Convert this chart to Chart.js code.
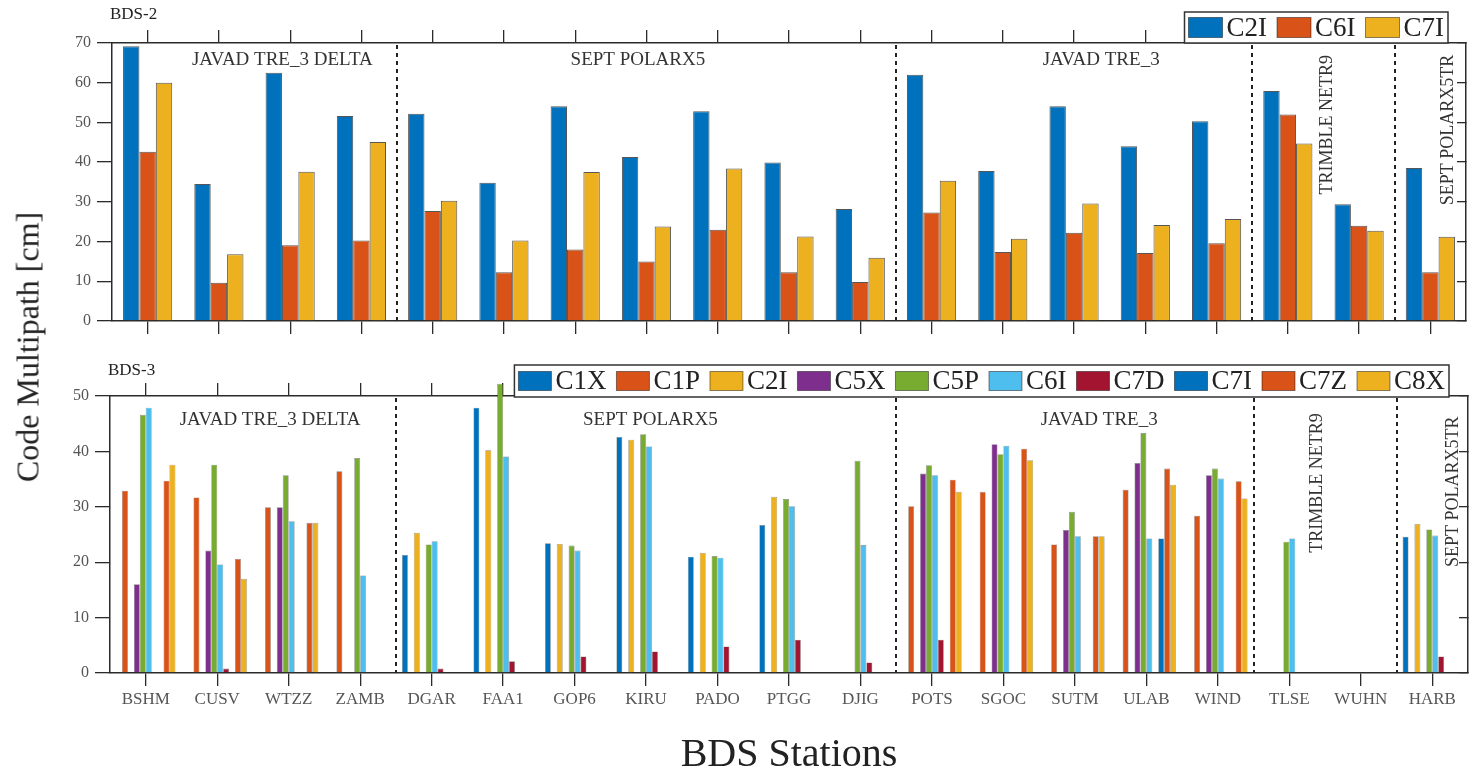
<!DOCTYPE html>
<html>
<head>
<meta charset="utf-8">
<title>BDS code multipath</title>
<script src="https://cdn.jsdelivr.net/npm/chart.js@4.4.1/dist/chart.umd.min.js"></script>
<style>
  html, body { margin: 0; padding: 0; background: #fff; }
  #page { position: relative; width: 1475px; height: 778px; overflow: hidden; background: #fff; }
  #topWrap { position: absolute; left: 0; top: 0; width: 1475px; height: 345px; }
  #bottomWrap { position: absolute; left: 0; top: 345px; width: 1475px; height: 433px; }
  #yTitle {
    position: absolute; left: 28px; top: 347px;
    transform: translate(-50%, -50%) rotate(-90deg);
    font: 32px 'Liberation Serif', 'Times New Roman', serif;
    color: #222; white-space: nowrap;
  }
</style>
</head>
<body>
<div id="page">
  <div id="topWrap"><canvas id="bds2Chart" width="1475" height="345"></canvas></div>
  <div id="bottomWrap"><canvas id="bds3Chart" width="1475" height="433"></canvas></div>
  <div id="yTitle">Code Multipath [cm]</div>
</div>
<script>
const stations = ['BSHM', 'CUSV', 'WTZZ', 'ZAMB', 'DGAR', 'FAA1', 'GOP6', 'KIRU', 'PADO', 'PTGG',
                  'DJIG', 'POTS', 'SGOC', 'SUTM', 'ULAB', 'WIND', 'TLSE', 'WUHN', 'HARB'];

// BDS-2 signals
const bds2Signals = ['C2I', 'C6I', 'C7I'];
const b2C2I = [69.2, 34.5, 62.5, 51.6, 52.2, 34.8, 54.1, 41.3, 52.8, 39.9, 28.2, 62.0, 37.8, 54.1, 44.0, 50.3, 57.9, 29.4, 38.5];
const b2C6I = [42.6, 9.6, 19.1, 20.3, 27.7, 12.3, 18.0, 15.0, 23.0, 12.3, 9.8, 27.3, 17.4, 22.2, 17.1, 19.6, 52.0, 24.0, 12.3];
const b2C7I = [60.0, 16.8, 37.6, 45.1, 30.3, 20.3, 37.5, 23.8, 38.4, 21.3, 15.9, 35.3, 20.7, 29.6, 24.2, 25.7, 44.7, 22.7, 21.2];

// BDS-3 signals
const bds3Signals = ['C1X', 'C1P', 'C2I', 'C5X', 'C5P', 'C6I', 'C7D', 'C7I', 'C7Z', 'C8X'];
const b3C1X = [0, 0, 0, 0, 21.3, 47.9, 23.4, 42.6, 21.0, 26.7, 0, 0, 0, 0, 0, 0, 0, 0, 24.6];
const b3C1P = [32.9, 31.7, 29.9, 36.4, 0, 0, 0, 0, 0, 0, 0, 30.1, 32.7, 23.2, 33.1, 28.4, 0, 0, 0];
const b3C2I = [0, 0, 0, 0, 25.3, 40.2, 23.3, 42.1, 21.7, 31.8, 0, 0, 0, 0, 0, 0, 0, 0, 26.9];
const b3C5X = [16.0, 22.1, 29.9, 0, 0, 0, 0, 0, 0, 0, 0, 36.0, 41.3, 25.8, 37.9, 35.7, 0, 0, 0];
const b3C5P = [46.6, 37.6, 35.7, 38.8, 23.2, 52.2, 23.0, 43.1, 21.1, 31.4, 38.3, 37.5, 39.5, 29.1, 43.3, 36.9, 23.7, 0, 25.9];
const b3C6I = [47.9, 19.6, 27.4, 17.6, 23.8, 39.1, 22.1, 40.9, 20.8, 30.1, 23.1, 35.7, 41.0, 24.7, 24.3, 35.1, 24.3, 0, 24.8];
const b3C7D = [0, 0.8, 0, 0, 0.8, 2.1, 3.0, 3.9, 4.8, 6.0, 1.9, 6.0, 0, 0, 0, 0, 0, 0, 3.0];
const b3C7I = [0, 0, 0, 0, 0, 0, 0, 0, 0, 0, 0, 0, 0, 0, 24.3, 0, 0, 0, 0];
const b3C7Z = [34.7, 20.6, 27.1, 0, 0, 0, 0, 0, 0, 0, 0, 34.9, 40.5, 24.7, 36.9, 34.6, 0, 0, 0];
const b3C8X = [37.6, 17.0, 27.1, 0, 0, 0, 0, 0, 0, 0, 0, 32.7, 38.4, 24.7, 34.0, 31.5, 0, 0, 0];

const yTicksBds2 = { max: 70, step: 10 };
const yTicksBds3 = { max: 50, step: 10 };

// matlab default colour order
const blue = '#0072BD', orange = '#D95319', yellow = '#EDB120', purple = '#7E2F8E',
      green = '#77AC30', cyan = '#4DBEEE', wine = '#A2142F';
const bds2Colors = [blue, orange, yellow];
const bds3Colors = [blue, orange, yellow, purple, green, cyan, wine, blue, orange, yellow];

const serif = "'Liberation Serif', 'Times New Roman', serif";
const axisColor = '#2b2b2b';

Chart.defaults.font.family = serif;
Chart.defaults.animation = false;

// dashed receiver separators, receiver names and panel name
const panelDecor = {
    id: 'panelDecor',
    afterDatasetsDraw(chart, args, opts) {
        const { ctx, chartArea } = chart;
        const x = chart.scales.x, y = chart.scales.y;
        ctx.save();
        ctx.setLineDash([4, 4]);
        ctx.lineWidth = 2;
        ctx.strokeStyle = '#222';
        opts.breaks.forEach(b => {
            const px = Math.round(x.getPixelForValue(b));
            ctx.beginPath();
            ctx.moveTo(px, chartArea.top + 2);
            ctx.lineTo(px, chartArea.bottom);
            ctx.stroke();
        });
        ctx.setLineDash([]);
        ctx.fillStyle = '#333';
        ctx.textAlign = 'center';
        ctx.textBaseline = 'middle';
        opts.groups.forEach(g => {
            const px = x.getPixelForValue(g.at);
            const py = y.getPixelForValue(g.y);
            if (g.rotate) {
                ctx.font = '18px ' + serif;
                ctx.save();
                ctx.translate(px, py);
                ctx.rotate(-Math.PI / 2);
                ctx.fillText(g.text, 0, 0);
                ctx.restore();
            } else {
                ctx.font = '19px ' + serif;
                ctx.fillText(g.text, px, py);
            }
        });
        ctx.textAlign = 'left';
        ctx.fillStyle = '#222';
        ctx.font = '17px ' + serif;
        ctx.fillText(opts.name, chartArea.left - 2, chartArea.top - opts.nameDy);
        ctx.restore();
    }
};

// boxed legend sitting on the top edge of the axes
const boxLegend = {
    id: 'boxLegend',
    afterDraw(chart, args, o) {
        const ctx = chart.ctx;
        const items = chart.data.datasets.map(ds => ({ label: ds.label, color: ds.backgroundColor }));
        ctx.save();
        ctx.font = o.fontSize + 'px ' + serif;
        let w = o.pad;
        items.forEach(it => { w += o.boxW + o.gap + ctx.measureText(it.label).width + o.space; });
        w = w - o.space + o.pad;
        const left = o.right - w;
        ctx.fillStyle = '#fff';
        ctx.fillRect(left, o.top, w, o.height);
        ctx.strokeStyle = '#333';
        ctx.lineWidth = 1.5;
        ctx.strokeRect(left, o.top, w, o.height);
        const cy = o.top + o.height / 2;
        let cx = left + o.pad;
        ctx.textBaseline = 'middle';
        items.forEach(it => {
            ctx.fillStyle = it.color;
            ctx.fillRect(cx, cy - o.boxH / 2, o.boxW, o.boxH);
            ctx.strokeStyle = 'rgba(0,0,0,0.45)';
            ctx.lineWidth = 1;
            ctx.strokeRect(cx, cy - o.boxH / 2, o.boxW, o.boxH);
            cx += o.boxW + o.gap;
            ctx.fillStyle = '#222';
            ctx.fillText(it.label, cx, cy + 1);
            cx += ctx.measureText(it.label).width + o.space;
        });
        ctx.restore();
    }
};

function tickGrid(len) {
    return { display: true, drawOnChartArea: false, drawTicks: true, tickLength: len,
             color: axisColor, lineWidth: 1.3, offset: false };
}

function frameScales(yCfg, cfg) {
    const border = { display: true, color: axisColor, width: 1.5 };
    return {
        x: {
            type: 'category', position: 'bottom', offset: true,
            grid: tickGrid(13), border,
            ticks: cfg.xTicks,
            title: cfg.xTitle,
            afterFit: s => { s.height = cfg.bottomH; }
        },
        xTop: {
            type: 'category', position: 'top', offset: true,
            grid: tickGrid(13), border,
            ticks: { display: false },
            afterFit: s => { s.height = 0; }
        },
        y: {
            type: 'linear', position: 'left', min: 0, max: yCfg.max,
            ticks: { stepSize: yCfg.step, padding: 6, color: '#555', font: { family: serif, size: 16 } },
            grid: tickGrid(15), border,
            afterFit: s => { s.width = cfg.leftW; }
        },
        yRight: {
            type: 'linear', position: 'right', min: 0, max: yCfg.max,
            ticks: { display: false, stepSize: yCfg.step },
            grid: tickGrid(-9), border,
            afterFit: s => { s.width = cfg.rightW; }
        }
    };
}

function makeDatasets(names, series, colors, edge, clip) {
    return names.map((name, i) => ({
        label: name,
        data: series[i],
        backgroundColor: colors[i],
        borderColor: edge.color,
        borderWidth: edge.width,
        borderSkipped: 'start',
        clip: clip
    }));
}

new Chart(document.getElementById('bds2Chart'), {
    type: 'bar',
    data: {
        labels: stations,
        datasets: makeDatasets(bds2Signals, [b2C2I, b2C6I, b2C7I], bds2Colors,
                               { color: 'rgba(30,30,30,0.75)', width: 1 }, true)
    },
    options: {
        responsive: false,
        devicePixelRatio: 1,
        layout: { padding: { top: 43, left: 0, right: 0, bottom: 0 } },
        datasets: { bar: { categoryPercentage: 0.69, barPercentage: 1.0 } },
        scales: frameScales(yTicksBds2, {
            xTicks: { display: false },
            xTitle: { display: false },
            bottomH: 24, leftW: 112, rightW: 9
        }),
        plugins: {
            legend: { display: false },
            tooltip: { enabled: false },
            panelDecor: {
                name: 'BDS-2', nameDy: 28,
                breaks: [3.5, 10.5, 15.5, 17.5],
                groups: [
                    { text: 'JAVAD TRE_3 DELTA', at: 1.89, y: 65.7 },
                    { text: 'SEPT POLARX5', at: 6.88, y: 65.7 },
                    { text: 'JAVAD TRE_3', at: 13.38, y: 65.7 },
                    { text: 'TRIMBLE NETR9', at: 16.56, y: 49.4, rotate: true },
                    { text: 'SEPT POLARX5TR', at: 18.25, y: 48.1, rotate: true }
                ]
            },
            boxLegend: { right: 1448, top: 12, height: 31, pad: 4, boxW: 34, boxH: 20, gap: 4, space: 10, fontSize: 27 }
        }
    },
    plugins: [panelDecor, boxLegend]
});

new Chart(document.getElementById('bds3Chart'), {
    type: 'bar',
    data: {
        labels: stations,
        datasets: makeDatasets(bds3Signals,
            [b3C1X, b3C1P, b3C2I, b3C5X, b3C5P, b3C6I, b3C7D, b3C7I, b3C7Z, b3C8X],
            bds3Colors, { color: 'rgba(30,30,30,0.55)', width: 0.6 }, false)
    },
    options: {
        responsive: false,
        devicePixelRatio: 1,
        layout: { padding: { top: 51, left: 0, right: 0, bottom: 0 } },
        datasets: { bar: { categoryPercentage: 0.83, barPercentage: 1.0 } },
        scales: frameScales(yTicksBds3, {
            xTicks: { display: true, autoSkip: false, maxRotation: 0, padding: 3, color: '#555',
                      font: { family: serif, size: 17 } },
            xTitle: { display: true, text: 'BDS Stations', color: '#222',
                      font: { family: serif, size: 40, lineHeight: 1.15 }, padding: 0 },
            bottomH: 105, leftW: 110, rightW: 7
        }),
        plugins: {
            legend: { display: false },
            tooltip: { enabled: false },
            panelDecor: {
                name: 'BDS-3', nameDy: 25,
                breaks: [3.5, 10.5, 15.5, 17.5],
                groups: [
                    { text: 'JAVAD TRE_3 DELTA', at: 1.74, y: 45.7 },
                    { text: 'SEPT POLARX5', at: 7.06, y: 45.7 },
                    { text: 'JAVAD TRE_3', at: 13.34, y: 45.7 },
                    { text: 'TRIMBLE NETR9', at: 16.39, y: 34.3, rotate: true },
                    { text: 'SEPT POLARX5TR', at: 18.29, y: 32.7, rotate: true }
                ]
            },
            boxLegend: { right: 1449, top: 20, height: 32, pad: 4, boxW: 33, boxH: 19, gap: 4, space: 10, fontSize: 27 }
        }
    },
    plugins: [panelDecor, boxLegend]
});
</script>
</body>
</html>
